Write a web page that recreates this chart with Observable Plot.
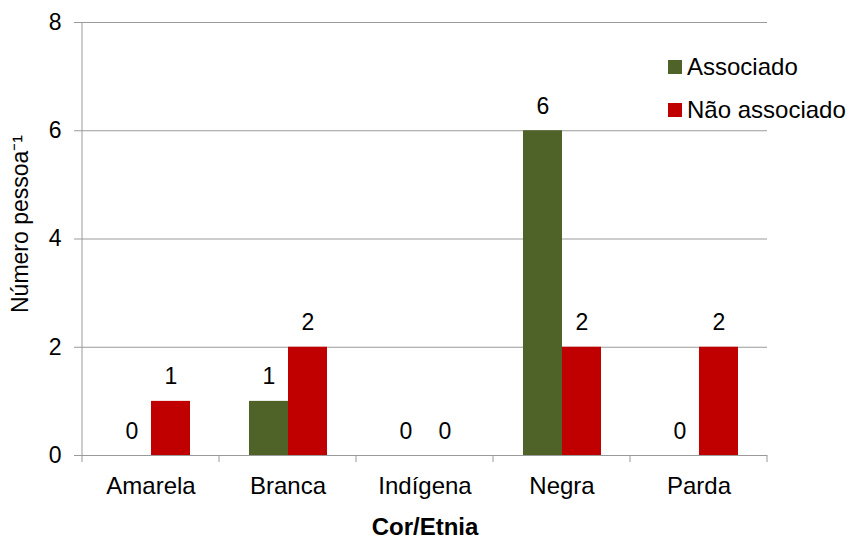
<!DOCTYPE html>
<html>
<head>
<meta charset="utf-8">
<script src="https://cdn.jsdelivr.net/npm/d3@7"></script>
<script src="https://cdn.jsdelivr.net/npm/@observablehq/plot@0.6"></script>
<style>
  body { margin: 0; background: #fff; font-family: "Liberation Sans", Arial, sans-serif; }
  #wrap { position: relative; width: 855px; height: 538px; }
  .legend-item { position: absolute; left: 668px; height: 26px; display: flex; align-items: center;
                 font-size: 24px; line-height: 26px; color: #000; white-space: nowrap; }
  .legend-item .sw { width: 14px; height: 14px; margin-right: 5px; }
  g[aria-label="fx-axis label"] { font-weight: bold; }
</style>
</head>
<body>
<div id="wrap"></div>
<script>
// Número de pessoas por cor/etnia
const categories = ["Amarela", "Branca", "Indígena", "Negra", "Parda"];
const series = ["Associado", "Não associado"];
const associado = [0, 1, 0, 6, 0];
const naoAssociado = [1, 2, 0, 2, 2];
const yTicks = [0, 2, 4, 6, 8];
const seriesColors = ["#4F6228", "#C00000"];
const yLabel = "Número pessoa⁻¹";
const xLabel = "Cor/Etnia";

const rows = categories.flatMap((c, i) => [
  {cat: c, serie: series[0], value: associado[i]},
  {cat: c, serie: series[1], value: naoAssociado[i]}
]);

const axisGray = "#9a9a9a";

const chart = Plot.plot({
  width: 855,
  height: 538,
  marginLeft: 81,
  marginRight: 88,
  marginTop: 22,
  marginBottom: 83,
  style: {fontFamily: "'Liberation Sans', Arial, sans-serif", fontSize: "23px", color: "#000", background: "#fff"},
  fx: {domain: categories, padding: 0, axis: null},
  x: {domain: series, paddingInner: 0, paddingOuter: 0.756, axis: null},
  y: {domain: [0, 8], axis: null},
  color: {domain: series, range: seriesColors},
  marks: [
    Plot.gridY(yTicks, {stroke: axisGray, strokeOpacity: 1}),
    Plot.barY(rows, {fx: "cat", x: "serie", y: "value", fill: "serie"}),
    Plot.text(rows, {fx: "cat", x: "serie", y: "value", text: d => `${d.value}`, lineAnchor: "bottom", dy: -17, fill: "#000"}),
    Plot.ruleY([0], {stroke: axisGray}),
    Plot.axisY(yTicks, {tickSize: 8, tickPadding: 13, stroke: axisGray, label: null, tickFormat: d => `${d}`}),
    Plot.text([yLabel], {frameAnchor: "left", facetAnchor: "left", textAnchor: "middle", rotate: -90, dx: -71, dy: -15, lineAnchor: "top", fill: "#000"}),
    Plot.axisFx({anchor: "bottom", tickSize: 0, tickPadding: 21, label: xLabel, labelOffset: 79, labelArrow: "none", fontSize: 24})
  ]
});

// y axis line and category boundary ticks below the baseline
const fx = chart.scale("fx");
const y = chart.scale("y");
const base = y.apply(0);
const edges = categories.map(c => fx.apply(c));
edges.push(edges[edges.length - 1] + fx.step);
const g = d3.select(chart).append("g").attr("stroke", axisGray);
g.append("line")
  .attr("x1", edges[0]).attr("x2", edges[0])
  .attr("y1", y.apply(yTicks[yTicks.length - 1])).attr("y2", base);
g.selectAll("line.edge").data(edges).join("line")
  .attr("class", "edge")
  .attr("x1", d => d).attr("x2", d => d)
  .attr("y1", base).attr("y2", base + 7);

const wrap = document.getElementById("wrap");
wrap.appendChild(chart);

// legend
series.forEach((s, i) => {
  const item = document.createElement("div");
  item.className = "legend-item";
  item.style.top = (54 + i * 43) + "px";
  const sw = document.createElement("span");
  sw.className = "sw";
  sw.style.background = seriesColors[i];
  item.appendChild(sw);
  item.appendChild(document.createTextNode(s));
  wrap.appendChild(item);
});
</script>
</body>
</html>
